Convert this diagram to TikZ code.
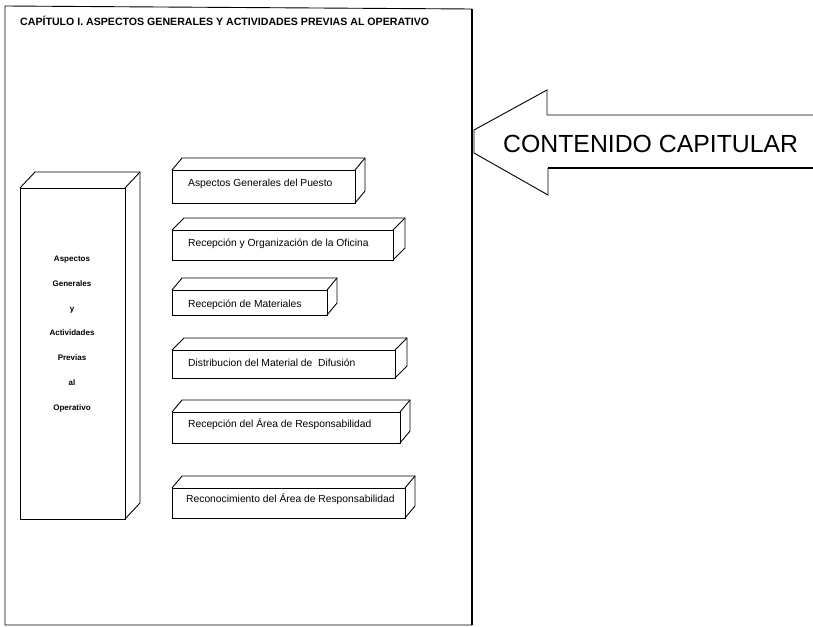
\documentclass[tikz,border=0pt]{standalone}
\usepackage{fontspec}
\setmainfont{Liberation Sans}
\usetikzlibrary{calc}
\tikzset{
  ln/.style={line width=0.9pt, line join=miter},
  face/.style={draw, ln, inner sep=0pt, outer sep=0pt, anchor=north west},
  lbl/.style={anchor=base west, inner sep=0pt, font=\fontsize{10.3}{12}\selectfont},
}
\newcommand\cubeedges[3]{%
  \draw[ln] (#1.north west) -- ++(#2,-#3) -- ([shift={(#2,-#3)}]#1.north east) -- ([shift={(#2,-#3)}]#1.south east) -- (#1.south east);
  \draw[ln] (#1.north east) -- ++(#2,-#3);
}
\begin{document}
\begin{tikzpicture}[x=1pt,y=-1pt]
\useasboundingbox (0,0) rectangle (813,626);
% outer frame
\draw[ln] (472,9) -- (5,6) -- (5,625) -- (472,625);
\draw[line width=1.7pt] (472,9) -- (472,625);
% title
\node[anchor=base west, inner sep=0pt, font=\bfseries\fontsize{10.6}{12}\selectfont] (title) at (20,26) {CAPÍTULO I. ASPECTOS GENERALES Y ACTIVIDADES PREVIAS AL OPERATIVO};
% left tall box
\node[face, minimum width=105, minimum height=331] (L) at (20,188) {};
\cubeedges{L}{15}{16}
\node[align=center, inner sep=0pt, font=\bfseries\fontsize{8}{24.7}\selectfont] (Lt) at (72,334) {Aspectos\\Generales\\y\\Actividades\\Previas\\al\\Operativo};
% boxes
\node[face, minimum width=183, minimum height=33] (b1) at (172,170) {};
\cubeedges{b1}{10}{12}
\node[lbl] (t1) at (188,186) {Aspectos Generales del Puesto};
\node[face, minimum width=221, minimum height=30] (b2) at (172,230) {};
\cubeedges{b2}{12}{12}
\node[lbl] (t2) at (188,246) {Recepción y Organización de la Oficina};
\node[face, minimum width=155, minimum height=25] (b3) at (172,290) {};
\cubeedges{b3}{10}{12}
\node[lbl] (t3) at (188,307) {Recepción de Materiales};
\node[face, minimum width=223, minimum height=28] (b4) at (172,350) {};
\cubeedges{b4}{12}{12}
\node[lbl] (t4) at (188,366) {Distribucion del Material de\ \ Difusión};
\node[face, minimum width=228, minimum height=31] (b5) at (172,412) {};
\cubeedges{b5}{10}{12}
\node[lbl] (t5) at (188,427) {Recepción del Área de Responsabilidad};
\node[face, minimum width=233, minimum height=30] (b6) at (172,488) {};
\cubeedges{b6}{10}{12}
\node[lbl] (t6) at (186,502) {Reconocimiento del Área de Responsabilidad};
% arrow
\draw[ln] (813,115) -- (547,115) -- (547,90) -- (474,130) -- (474,153) -- (548,195) -- (548,168);
\draw[line width=1.8pt] (548,168) -- (813,168);
\node[anchor=base west, inner sep=0pt, font=\fontsize{24.8}{28}\selectfont] (arrowtext) at (503,152) {CONTENIDO CAPITULAR};
\end{tikzpicture}
\end{document}
